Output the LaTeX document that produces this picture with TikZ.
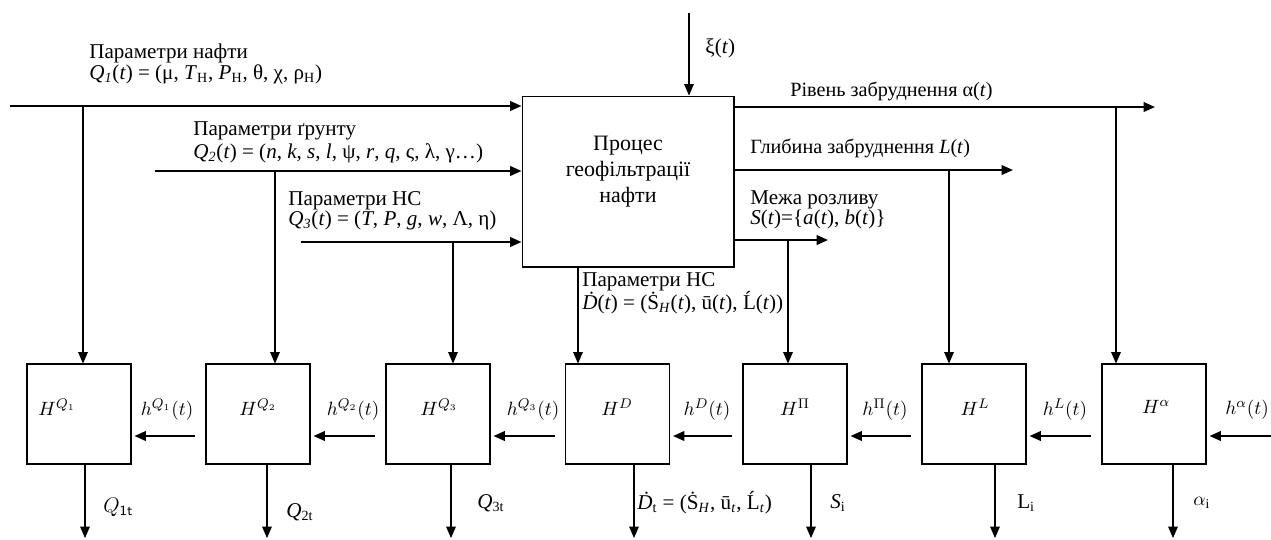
\documentclass[tikz,border=0pt]{standalone}
\usepackage{fontspec}
\setmainfont{Liberation Serif}
\usetikzlibrary{arrows.meta}

\begin{document}
\begin{tikzpicture}[x=0.02cm,y=-0.02cm,
  font=\fontsize{12}{14}\selectfont,
  mainbox/.style={draw,line width=0.6pt,minimum width=4.24cm,minimum height=3.42cm,inner sep=0pt},
  hbox/.style={draw,line width=0.6pt,minimum width=2.08cm,minimum height=2cm,inner sep=0pt},
  arr/.style={-{Triangle[length=6.5pt,width=5.5pt]},line width=1.1pt},
  tap/.style={-{Triangle[length=6.5pt,width=5.5pt]},line width=0.6pt},
  harr/.style={arr,shorten <=0.2cm,shorten >=0.06cm},
  lbl/.style={anchor=west,inner sep=0pt},
  mlbl/.style={font=\fontsize{11}{13}\selectfont}
]
\useasboundingbox (0,0) rectangle (1271,539);

% main process
\node[mainbox] (proc) at (628,181.5) {};
\node[align=center,font=\fontsize{12.5}{14.8}\selectfont] (proctxt) at (628,172) {Процес\\геофільтрації\\нафти};

% bottom row of blocks
\node[hbox] (hq1) at (79,414) {};
\node[hbox] (hq2) at (258,414) {};
\node[hbox] (hq3) at (438,414) {};
\node[hbox] (hd) at (617.5,414) {};
\node[hbox] (hp) at (795,414) {};
\node[hbox] (hl) at (974,414) {};
\node[hbox] (ha) at (1154,414) {};
\node[mlbl] (hq1t) at (57,407) {$H^{Q_1}$};
\node[mlbl] (hq2t) at (258,407) {$H^{Q_2}$};
\node[mlbl] (hq3t) at (439,407) {$H^{Q_3}$};
\node[mlbl] (hdt) at (617,407) {$H^{D}$};
\node[mlbl] (hpt) at (795,407) {$H^{\Pi}$};
\node[mlbl] (hlt) at (975,407) {$H^{L}$};
\node[mlbl] (hat) at (1156,407) {$H^{\alpha}$};

% inputs
\coordinate (q1in) at (10,106);
\coordinate (q2in) at (155,171);
\coordinate (q3in) at (301,242);
\coordinate (xiin) at (689,13);
\draw[arr] (q1in) -- (q1in -| proc.west);
\draw[arr] (q2in) -- (q2in -| proc.west);
\draw[arr] (q3in) -- (q3in -| proc.west);
\draw[tap] (xiin) -- (xiin |- proc.north);
\node[lbl] (xil) at (705,48) {ξ(\textit{t})};

\node[lbl] (q1l) at (89,53) {Параметри нафти};
\node[lbl] (q1f) at (89,74) {\textit{Q}\textsubscript{\textit{1}}(\textit{t}) = (μ, \textit{T}\textsubscript{Н}, \textit{P}\textsubscript{Н}, θ, χ, ρ\textsubscript{Н})};
\node[lbl] (q2l) at (193,131) {Параметри ґрунту};
\node[lbl] (q2f) at (193,153) {\textit{Q}\textsubscript{\textit{2}}(\textit{t}) = (\textit{n}, \textit{k}, \textit{s}, \textit{l}, ψ, \textit{r}, \textit{q}, ς, λ, γ…)};
\node[lbl] (q3l) at (288,201) {Параметри НС};
\node[lbl] (q3f) at (288,220) {\textit{Q}\textsubscript{\textit{3}}(\textit{t}) = (\textit{T}, \textit{P}, \textit{g}, \textit{w}, Λ, η)};

% outputs of the process
\coordinate (aout) at (1155,107);
\coordinate (lout) at (1013,170);
\coordinate (sout) at (828,240);
\draw[arr] (aout -| proc.east) -- (aout);
\draw[arr] (lout -| proc.east) -- (lout);
\draw[arr] (sout -| proc.east) -- (sout);
\node[lbl,font=\fontsize{11.5}{13}\selectfont] (al) at (790,91) {Рівень забруднення α(\textit{t})};
\node[lbl,font=\fontsize{11.5}{13}\selectfont] (ll) at (750,148) {Глибина забруднення \textit{L}(\textit{t})};
\node[lbl] (sl) at (750,200) {Межа розливу};
\node[lbl] (sf) at (750,219) {\textit{S}(\textit{t})=\{\textit{a}(\textit{t}), \textit{b}(\textit{t})\}};
\node[lbl] (dl) at (582,282) {Параметри НС};
\node[lbl] (df) at (582,303) {\textit{Ḋ}(\textit{t}) = (Ṡ\textsubscript{\textit{H}}(\textit{t}), ū(\textit{t}), Ĺ(\textit{t}))};

% taps down to the blocks
\coordinate (q1tap) at (83,106);
\coordinate (q2tap) at (275,171);
\coordinate (q3tap) at (453,242);
\coordinate (dtap) at (578,267);
\coordinate (stap) at (788,240);
\coordinate (ltap) at (949,170);
\coordinate (atap) at (1116,107);
\draw[tap] (q1tap) -- (q1tap |- hq1.north);
\draw[tap] (q2tap) -- (q2tap |- hq2.north);
\draw[tap] (q3tap) -- (q3tap |- hq3.north);
\draw[tap] (dtap |- proc.south) -- (dtap |- hd.north);
\draw[tap] (stap) -- (stap |- hp.north);
\draw[tap] (ltap) -- (ltap |- hl.north);
\draw[tap] (atap) -- (atap |- ha.north);

% chain of h(t)
\coordinate (hrow) at (0,436);
\coordinate (hain) at (1271,436);
\draw[harr] (hq2.west |- hrow) -- (hq1.east |- hrow);
\draw[harr] (hq3.west |- hrow) -- (hq2.east |- hrow);
\draw[harr] (hd.west |- hrow) -- (hq3.east |- hrow);
\draw[harr] (hp.west |- hrow) -- (hd.east |- hrow);
\draw[harr] (hl.west |- hrow) -- (hp.east |- hrow);
\draw[harr] (ha.west |- hrow) -- (hl.east |- hrow);
\draw[arr,shorten >=0.06cm] (hain) -- (ha.east |- hrow);
\node[mlbl] (h1l) at (167,410) {$h^{Q_1}(t)$};
\node[mlbl] (h2l) at (353,410) {$h^{Q_2}(t)$};
\node[mlbl] (h3l) at (533,410) {$h^{Q_3}(t)$};
\node[mlbl] (hdl) at (707,410) {$h^{D}(t)$};
\node[mlbl] (hpl) at (885,410) {$h^{\Pi}(t)$};
\node[mlbl] (hll) at (1065,410) {$h^{L}(t)$};
\node[mlbl] (hal) at (1247,410) {$h^{\alpha}(t)$};

% outputs of the blocks
\coordinate (q1o) at (85,538);
\coordinate (q2o) at (267,538);
\coordinate (q3o) at (451,538);
\coordinate (do) at (634,538);
\coordinate (so) at (811,538);
\coordinate (lo) at (995,538);
\coordinate (ao) at (1173,538);
\draw[tap] (q1o |- hq1.south) -- (q1o);
\draw[tap] (q2o |- hq2.south) -- (q2o);
\draw[tap] (q3o |- hq3.south) -- (q3o);
\draw[tap] (do |- hd.south) -- (do);
\draw[tap] (so |- hp.south) -- (so);
\draw[tap] (lo |- hl.south) -- (lo);
\draw[tap] (ao |- ha.south) -- (ao);
\node[lbl] (q1ol) at (103,507) {$Q$\textsubscript{\textsf{1t}}};
\node[lbl] (q2ol) at (286,512) {\textit{Q}\textsubscript{2t}};
\node[lbl] (q3ol) at (477,503) {\textit{Q}\textsubscript{3t}};
\node[lbl] (dol) at (637,503) {\textit{Ḋ}\textsubscript{t} = (Ṡ\textsubscript{\textit{H}}, ū\textsubscript{\textit{t}}, Ĺ\textsubscript{\textit{t}})};
\node[lbl] (sol) at (830,503) {\textit{S}\textsubscript{i}};
\node[lbl] (lol) at (1017,503) {L\textsubscript{i}};
\node[lbl,mlbl] (aol) at (1193,503) {$\alpha$\textsubscript{i}};
\end{tikzpicture}
\end{document}
